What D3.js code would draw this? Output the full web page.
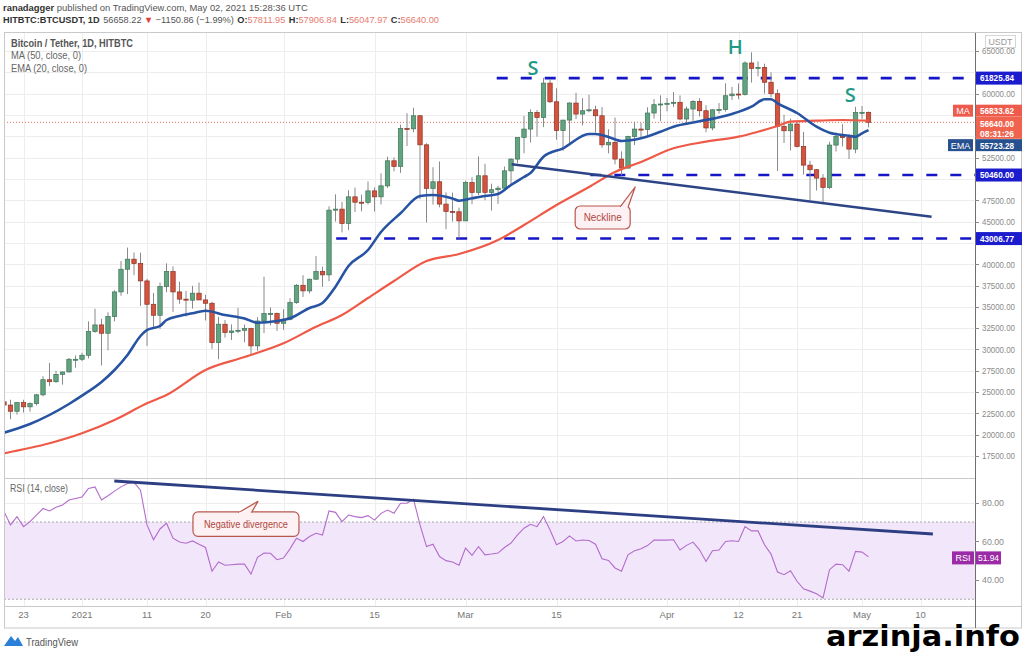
<!DOCTYPE html>
<html><head><meta charset="utf-8">
<script src="https://cdn.jsdelivr.net/npm/d3@7"></script>
<style>body{margin:0;background:#fff}svg{display:block;font-family:"Liberation Sans",Arial,sans-serif}</style>
</head><body><svg id="c" width="1024" height="652"></svg>
<script>
// ---------------- DATA ----------------
const startDay = "2020-12-20"; // first daily candle (index 0), one candle per day
const opens = [23860,23480,22750,23770,23270,23650,24680,26450,26220,27080,27360,28850,28850,29320,32100,32880,31900,33860,36750,39410,40590,40080,38040,35300,34010,37380,39140,36750,35900,35780,36600,35810,35420,30800,32960,31980,32170,32250,32450,30420,33340,34210,34210,33070,33540,35500,37530,36870,38240,39140,38750,46340,46460,44780,47900,47270,47250,48600,47900,49190,52130,51470,55920,55880,57410,54000,48890,49670,47050,46190,46150,45080,49590,48420,50370,48420,48740,48920,50950,52330,54870,55850,57800,57210,61240,59050,55680,56900,58900,57610,58000,58110,57410,54000,54300,52330,51270,54990,55850,55800,57730,58710,58790,58870,58990,57030,58200,59100,58000,55980,58110,58150,59760,59960,59900,63600,62970,63090,61340,60000,56170,55650,56440,53810,51620,51080,50100,49000,53970,54990,54850,53500,57790,57811.95];
const closes = [23480,22750,23770,23270,23650,24680,26450,26220,27080,27360,28850,28850,29320,32100,32880,31900,33860,36750,39410,40590,40080,38040,35300,34010,37380,39140,36750,35900,35780,36600,35810,35420,30800,32960,31980,32170,32250,32450,30420,33340,34210,34210,33070,33540,35500,37530,36870,38240,39140,38750,46340,46460,44780,47900,47270,47250,48600,47900,49190,52130,51470,55920,55880,57410,54000,48890,49670,47050,46190,46150,45080,49590,48420,50370,48420,48740,48920,50950,52330,54870,55850,57800,57210,61240,59050,55680,56900,58900,57610,58000,58110,57410,54000,54300,52330,51270,54990,55850,55800,57730,58710,58790,58870,58990,57030,58200,59100,58000,55980,58110,58150,59760,59960,59900,63600,62970,63090,61340,60000,56170,55650,56440,53810,51620,51080,50100,49000,53970,54990,54850,53500,57790,57811.95,56640];
const highs = [24295,24102,23837,24100,23789,24789,26867,28422,27500,27410,28996,29300,29600,33300,34778,33600,34360,36939,40365,41950,41380,41350,38264,36628,37850,40100,39747,37950,36852,37469,37850,36415,35600,33826,33456,32944,34875,32921,32557,33783,38531,34933,34342,34717,35985,37662,38708,38310,40955,39700,46794,48200,47310,48678,48985,48150,49707,49010,50650,52619,52530,56368,57700,58352,57509,54183,51374,52041,48424,48394,46638,49790,50200,52640,51773,49448,49200,51450,52402,54895,57387,58150,58081,61845,61721,60633,56939,58999,60100,59468,59880,58589,58430,55830,57200,53230,55073,56700,56559,58400,59368,59800,59490,60200,59791,58492,59251,59474,58650,58153,58894,61220,60800,61200,63800,64854,63800,63520,62506,60499,57526,57076,56757,55521,52131,51166,50555,54357,55460,56428,55200,58458,58550,57906.84];
const lows = [23060,21815,22353,22600,22703,23434,24500,25700,26101,25880,27320,27850,28624,28946,31962,28130,29900,33288,36300,36500,38720,35111,30420,32531,32380,36701,34408,35357,33850,34800,35844,33400,30071,28850,31390,31106,31910,30837,29241,29842,31915,32825,32171,32296,33418,35362,36161,36570,38215,37351,37988,45000,43727,43994,46125,46202,47014,46174,47003,48947,50901,50710,53863,55477,47622,44892,47003,46674,44106,45000,43000,45115,47047,48100,47500,46300,47070,48800,49274,51845,53005,54273,54962,56078,58900,54600,53271,54123,57023,56270,57820,55450,53650,53000,51700,50427,51214,53967,54691,54900,57071,56769,57935,58428,56880,56388,56817,57333,55473,55700,57654,57900,59266,59350,59791,61301,62020,60000,59580,50931,54221,53329,53695,50500,47500,48650,47044,48800,53222,53813,52330,53013,57050,56047.97];

const maIdx = [0,7,12,17,22,25,31,37,43,48,52,56,60,65,70,76,80,85,90,94,98,103,108,113,116,119,121,125,129,133];
const maVal = [17820,18993,20166,21726,23685,24658,27591,29115,30722,32669,34042,36036,38030,40375,41196,42838,44598,46944,49055,50814,51987,53594,54368,54955,55541,56209,56714,56831,56913,56833.62];
const emaIdx = [0,4,10,12,15,17,19,21,22,24,25,27,29,31,34,37,39,42,44,47,49,51,53,56,58,61,64,66,69,70,72,74,76,78,80,81,83,86,90,91,93,95,98,101,103,107,112,115,117,118,119,122,125,127,130,131,132,133];
const emaVal = [20237,21257,23603,24576,26183,27591,29350,31579,32282,32751,33455,33924,34241,34546,34042,33631,33138,33338,33655,34863,35449,37361,39789,41666,43777,45970,47999,48117,47706,47448,47729,47999,48234,49289,50228,50697,52609,53594,55271,55271,54919,54450,54767,55541,56127,56761,57617,58473,59341,59341,58872,57734,56127,55424,55072,54955,55353,55723.28];
// RSI(14) daily values
const rsiVals = [75.4,68.5,72.8,67.6,70.2,73.6,77.0,75.7,77.6,78.8,81.4,82.2,83.0,87.4,88.2,81.4,83.6,86.0,88.2,90.0,90.5,86.5,68.5,60.8,66.4,69.4,61.6,59.6,59.0,60.2,58.5,56.8,44.5,49.3,47.6,47.9,48.2,48.2,43.0,51.7,53.9,53.8,50.5,51.3,56.1,61.6,59.9,62.5,64.2,63.3,75.7,75.0,70.2,73.6,72.8,72.3,73.3,71.0,74.5,76.2,74.5,79.7,79.7,81.9,68.5,57.3,58.5,52.1,50.0,49.3,47.6,56.5,52.7,57.3,53.0,53.4,53.9,56.8,59.1,63.3,66.8,68.8,67.6,72.8,65.9,58.2,59.9,62.8,60.2,60.7,60.4,58.5,51.0,50.1,46.2,44.5,53.0,55.1,56.1,57.8,60.6,60.6,60.6,60.8,55.5,57.9,59.6,55.6,49.6,55.1,55.5,59.9,60.3,59.9,67.6,65.4,65.4,58.2,53.4,44.1,42.7,44.8,39.3,35.4,34.2,32.8,30.7,45.3,48.2,47.9,44.5,54.8,54.4,51.94];

const priceTicks = [17500,20000,22500,25000,27500,30000,32500,35000,37500,40000,42500,45000,47500,50000,52500,55000,57500,60000,62500,65000];
const rsiTicks = [40,60,80];
const timeTickDates = ["2020-12-23","2021-01-01","2021-01-11","2021-01-20","2021-02-01","2021-02-15","2021-03-01","2021-03-15","2021-04-01","2021-04-12","2021-04-21","2021-05-01","2021-05-10"];
const timeTickLabels = ["23","2021","11","20","Feb","15","Mar","15","Apr","12","21","May","10"];

// drawings (day index, value)
const levelVals = [61825.84, 50460.00, 43006.77];
const levelStart = [75.8, 90.2, 51.1];
const necklineIdx = [78.1, 142.7], necklineVal = [51717, 45571];
const rsiTrendIdx = [16.97, 142.9], rsiTrendVal = [91.25, 63.8];
const patternTxt = ["S","H","S"], patternIdx = [81.4,112.5,130.2], patternVal = [63130,65593,59962];
const lastPrice = 56640.00;

// ---------------- LAYOUT ----------------
const plotL = 4, plotR = 975, mainT = 33, mainB = 478, rsiB = 606, axisB = 628;
const DAY = 864e5;
const t0 = new Date(startDay + "T00:00:00Z");
const dates = closes.map((_, i) => d3.utcDay.offset(t0, i));
const x = d3.scaleUtc().domain([t0, new Date(t0.getTime() + 149.38 * DAY)]).range([plotL, plotR]);
const xi = i => x(new Date(t0.getTime() + i * DAY));
const y = d3.scaleLinear().domain([14924, 67117]).range([mainB, mainT]);
const yR = d3.scaleLinear().domain([26.5, 92.8]).range([rsiB, mainB]);

const svg = d3.select("#c");
svg.append("rect").attr("width",1024).attr("height",652).attr("fill","#fff");
const defs = svg.append("defs");
defs.append("clipPath").attr("id","cm").append("rect").attr("x",plotL+0.5).attr("y",mainT).attr("width",plotR-plotL-0.5).attr("height",mainB-mainT);
defs.append("clipPath").attr("id","cr").append("rect").attr("x",plotL+0.5).attr("y",mainB).attr("width",plotR-plotL-0.5).attr("height",rsiB-mainB);

function fitText(sel, w){ sel.attr("textLength", w).attr("lengthAdjust","spacingAndGlyphs"); return sel; }

// ---------- grid ----------
const grid = svg.append("g");
timeTickDates.forEach(s => {
  const xx = Math.round(x(new Date(s+"T00:00:00Z"))) + 0.5;
  grid.append("line").attr("x1",xx).attr("x2",xx).attr("y1",mainT).attr("y2",rsiB).attr("stroke","#ededed");
});
priceTicks.forEach(v => {
  const yy = Math.round(y(v)) + 0.5;
  grid.append("line").attr("x1",plotL).attr("x2",plotR).attr("y1",yy).attr("y2",yy).attr("stroke","#ededed");
});
rsiTicks.forEach(v => {
  const yy = Math.round(yR(v)) + 0.5;
  grid.append("line").attr("x1",plotL).attr("x2",plotR).attr("y1",yy).attr("y2",yy).attr("stroke","#ededed");
});

// ---------- main pane ----------
const main = svg.append("g").attr("clip-path","url(#cm)");
main.append("line").attr("x1",plotL).attr("x2",plotR).attr("y1",y(lastPrice)).attr("y2",y(lastPrice))
  .attr("stroke","#e8735f").attr("stroke-width",1).attr("stroke-dasharray","1,2");
levelVals.forEach((v,k) => {
  main.append("line").attr("x1",xi(levelStart[k])).attr("x2",plotR+6).attr("y1",y(v)).attr("y2",y(v))
    .attr("stroke","#1616c9").attr("stroke-width",2.6).attr("stroke-dasharray","11,13");
});
const cg = main.append("g");
closes.forEach((c,i) => {
  const o = opens[i], up = c >= o, cx = x(dates[i]);
  cg.append("line").attr("x1",cx).attr("x2",cx).attr("y1",y(highs[i])).attr("y2",y(lows[i]))
    .attr("stroke","#8a8a8a").attr("stroke-width",1);
  const y1 = y(Math.max(o,c)), y2 = y(Math.min(o,c));
  cg.append("rect").attr("x",cx-2.2).attr("width",4.4).attr("y",y1).attr("height",Math.max(1,y2-y1))
    .attr("fill", up ? "#62a47f" : "#d4533f").attr("stroke", up ? "#3f7358" : "#8e3426").attr("stroke-width",0.7);
});
const line = d3.line().x(d => xi(d[0])).y(d => y(d[1])).curve(d3.curveMonotoneX);
main.append("path").datum(maIdx.map((d,k)=>[d,maVal[k]])).attr("d",line).attr("fill","none").attr("stroke","#ee5a47").attr("stroke-width",2.2);
main.append("path").datum(emaIdx.map((d,k)=>[d,emaVal[k]])).attr("d",line).attr("fill","none").attr("stroke","#2753a3").attr("stroke-width",2.6);
main.append("line").attr("x1",xi(necklineIdx[0])).attr("y1",y(necklineVal[0])).attr("x2",xi(necklineIdx[1])).attr("y2",y(necklineVal[1]))
  .attr("stroke","#2d4587").attr("stroke-width",2.4);
patternTxt.forEach((t,k) => {
  main.append("text").attr("x",xi(patternIdx[k])).attr("y",y(patternVal[k])+8).attr("text-anchor","middle")
    .attr("font-size",20).attr("font-family","Open Sans, sans-serif").attr("font-weight",600).attr("fill","#1f9a87").text(t);
});
function callout(g, bx, by, bw, bh, p1, p2, tip, txt, tw){
  g.append("rect").attr("x",bx).attr("y",by).attr("width",bw).attr("height",bh).attr("rx",5)
    .attr("fill","#fdf1f3").attr("stroke","#b8574c").attr("stroke-width",1.2);
  g.append("path").attr("d",`M${p1},${by+0.8}L${tip[0]},${tip[1]}L${p2},${by+0.8}`).attr("fill","#fdf1f3").attr("stroke","#b8574c").attr("stroke-width",1.2).attr("stroke-linejoin","round");
  g.append("line").attr("x1",p1+0.8).attr("x2",p2-0.8).attr("y1",by+0.8).attr("y2",by+0.8).attr("stroke","#fdf1f3").attr("stroke-width",1.6);
  fitText(g.append("text").attr("x",bx+bw/2-tw/2).attr("y",by+bh/2+3.5).attr("font-size",10).attr("fill","#b0463c").text(txt), tw);
}
{
  const tx = xi(97.1), ty = y(49055);
  callout(svg.append("g"), tx-60, ty+19, 55, 23, tx-15, tx-7, [tx,ty], "Neckline", 38);
}

// ---------- RSI pane ----------
const rp = svg.append("g").attr("clip-path","url(#cr)");
rp.append("rect").attr("x",plotL).attr("width",plotR-plotL).attr("y",yR(70)).attr("height",yR(30)-yR(70)).attr("fill","#f2e6fb");
[70,30].forEach(v => rp.append("line").attr("x1",plotL).attr("x2",plotR).attr("y1",yR(v)).attr("y2",yR(v))
  .attr("stroke","#a9a9a9").attr("stroke-dasharray","2,2"));
rp.append("path").datum(rsiVals).attr("d", d3.line().x((d,i)=>x(dates[i])).y(d=>yR(d)))
  .attr("fill","none").attr("stroke","#b36ccb").attr("stroke-width",1.1);
rp.append("line").attr("x1",xi(rsiTrendIdx[0])).attr("y1",yR(rsiTrendVal[0])).attr("x2",xi(rsiTrendIdx[1])).attr("y2",yR(rsiTrendVal[1]))
  .attr("stroke","#2d3f82").attr("stroke-width",2.8);
{
  const tx = xi(39.07), ty = yR(80.7);
  callout(svg.append("g"), tx-65, ty+10.5, 106, 24.5, tx-19.5, tx-6.5, [tx,ty], "Negative divergence", 84);
}

// ---------- frames & axes ----------
const fr = svg.append("g").attr("fill","none").attr("stroke","#c9c9c9");
fr.append("rect").attr("x",plotL+0.5).attr("y",mainT-0.5).attr("width",1021-plotL).attr("height",axisB-mainT+0.5);
fr.append("line").attr("x1",plotL).attr("x2",plotR).attr("y1",mainB+0.5).attr("y2",mainB+0.5);
fr.append("line").attr("x1",plotL).attr("x2",1021).attr("y1",rsiB+0.5).attr("y2",rsiB+0.5);
svg.append("line").attr("x1",plotR+0.5).attr("x2",plotR+0.5).attr("y1",mainT).attr("y2",axisB).attr("stroke","#6f6f6f");

// right-axis tags (defined first so that covered tick labels are skipped)
const tags = [];
levelVals.forEach(v => tags.push({yc:y(v), h:13, bg:"#1c1ccf", lines:[d3.format(".2f")(v)]}));
tags.push({yc:y(maVal[maVal.length-1]) - 10, h:12, bg:"#ee5a4b", lines:[d3.format(".2f")(maVal[maVal.length-1])], name:"MA", nameW:20});
tags.push({yc:y(lastPrice) + 5.5, h:22, bg:"#f0644f", lines:[d3.format(".2f")(lastPrice),"08:31:26"]});
tags.push({yc:y(emaVal[emaVal.length-1]) + 15, h:12, bg:"#27508f", lines:[d3.format(".2f")(emaVal[emaVal.length-1])], name:"EMA", nameW:25});
const covered = yy => tags.some(t => yy > t.yc - t.h/2 - 5 && yy < t.yc + t.h/2 + 5);

const ax = svg.append("g").attr("font-size",9.5).attr("fill","#8a8a8a");
priceTicks.forEach(v => {
  const yy = y(v);
  ax.append("line").attr("x1",plotR).attr("x2",plotR+4).attr("y1",Math.round(yy)+0.5).attr("y2",Math.round(yy)+0.5).attr("stroke","#8a8a8a");
  if (!covered(yy)) fitText(ax.append("text").attr("x",982).attr("y",yy+3.3).text(d3.format(".2f")(v)), 33);
});
rsiTicks.forEach(v => {
  const yy = yR(v);
  ax.append("line").attr("x1",plotR).attr("x2",plotR+4).attr("y1",Math.round(yy)+0.5).attr("y2",Math.round(yy)+0.5).attr("stroke","#8a8a8a");
  fitText(ax.append("text").attr("x",982).attr("y",yy+3.3).text(d3.format(".2f")(v)), 22);
});
timeTickDates.forEach((s,k) => {
  ax.append("text").attr("x",x(new Date(s+"T00:00:00Z"))).attr("y",618).attr("text-anchor","middle").attr("fill","#777").text(timeTickLabels[k]);
});
svg.append("rect").attr("x",985.5).attr("y",35.5).attr("width",30).attr("height",12).attr("fill","#fff").attr("stroke","#d5d5d5");
fitText(svg.append("text").attr("x",988.5).attr("y",44.5).attr("font-size",8.5).attr("fill","#999").text("USDT"),24);

tags.forEach(t => {
  svg.append("rect").attr("x",plotR+1).attr("y",t.yc-t.h/2).attr("width",46).attr("height",t.h).attr("fill",t.bg);
  t.lines.forEach((s,k)=> fitText(svg.append("text").attr("x",980).attr("y",t.yc-t.h/2+9.8+k*10.5).attr("font-size",9.2).attr("fill","#fff").attr("font-weight",600).text(s), 34));
  if (t.name){
    svg.append("rect").attr("x",plotR-t.nameW-2).attr("y",t.yc-6).attr("width",t.nameW).attr("height",12).attr("fill",t.bg);
    svg.append("text").attr("x",plotR-2-t.nameW/2).attr("y",t.yc+3.5).attr("text-anchor","middle").attr("font-size",9).attr("fill","#fff").text(t.name);
  }
});
{
  const v = rsiVals[rsiVals.length-1], yc = yR(v)+1;
  svg.append("rect").attr("x",plotR+1).attr("y",yc-6.5).attr("width",25).attr("height",13).attr("fill","#9b2ba6");
  svg.append("rect").attr("x",plotR-23).attr("y",yc-6.5).attr("width",22).attr("height",13).attr("fill","#9b2ba6");
  svg.append("text").attr("x",plotR-12).attr("y",yc+3.3).attr("text-anchor","middle").attr("font-size",9).attr("fill","#fff").text("RSI");
  fitText(svg.append("text").attr("x",plotR+3).attr("y",yc+3.3).attr("font-size",9).attr("fill","#fff").text(d3.format(".2f")(v)),21);
}

// ---------- header texts (segments side by side, font size chosen to fit naturally) ----------
function segLine(x0, yb, size, segs, target){
  const els = segs.map(s => svg.append("text").attr("y",yb).attr("font-size",size)
    .attr("font-weight", s.b ? "bold" : "normal").attr("fill", s.c).text(s.t));
  const ws = els.map(e => e.node().getComputedTextLength());
  const total = d3.sum(ws) + d3.sum(segs, s => s.g || 0);
  const k = Math.min(1, target / total);
  let xx = x0;
  els.forEach((e,i) => {
    xx += (segs[i].g || 0) * k;
    e.attr("x", xx).attr("font-size", size * k);
    xx += ws[i]*k;
  });
}
segLine(3, 10.5, 11, [
  {t:"ranadagger", b:true, c:"#333"},
  {t:"published on TradingView.com, May 02, 2021 15:28:36 UTC", c:"#555", g:3}
], 305);
segLine(3, 23, 11, [
  {t:"HITBTC:BTCUSDT, 1D", b:true, c:"#333"},
  {t:"56658.22", c:"#555", g:4},
  {t:"▼", c:"#e23b3b", g:3},
  {t:"−1150.86 (−1.99%)", c:"#555", g:3},
  {t:"O:", b:true, c:"#333", g:4}, {t:"57811.95", c:"#e77b70"},
  {t:"H:", b:true, c:"#333", g:4}, {t:"57906.84", c:"#e77b70"},
  {t:"L:", b:true, c:"#333", g:4}, {t:"56047.97", c:"#e77b70"},
  {t:"C:", b:true, c:"#333", g:4}, {t:"56640.00", c:"#e77b70"}
], 436);
fitText(svg.append("text").attr("x",11).attr("y",47).attr("font-size",10.5).attr("font-weight",600).attr("fill","#555").text("Bitcoin / Tether, 1D, HITBTC"),122);
fitText(svg.append("text").attr("x",11).attr("y",59).attr("font-size",10.5).attr("fill","#666").text("MA (50, close, 0)"),70);
fitText(svg.append("text").attr("x",11).attr("y",72).attr("font-size",10.5).attr("fill","#666").text("EMA (20, close, 0)"),76);
fitText(svg.append("text").attr("x",10).attr("y",492).attr("font-size",10).attr("fill","#666").text("RSI (14, close)"),58);

// TradingView logo
svg.append("path").attr("d","M4,646 L11,636 L15,641 L18,637 L23,646 Z").attr("fill","#2a7fd8");
fitText(svg.append("text").attr("x",26).attr("y",646).attr("font-size",10).attr("fill","#555").text("TradingView"),52);
// watermark
fitText(svg.append("text").attr("x",826).attr("y",646).attr("font-size",28).attr("font-weight","bold")
  .attr("font-family","'Liberation Sans Narrow','DejaVu Sans Condensed',sans-serif").attr("fill","#000").text("arzinja.info"),194);
</script></body></html>
